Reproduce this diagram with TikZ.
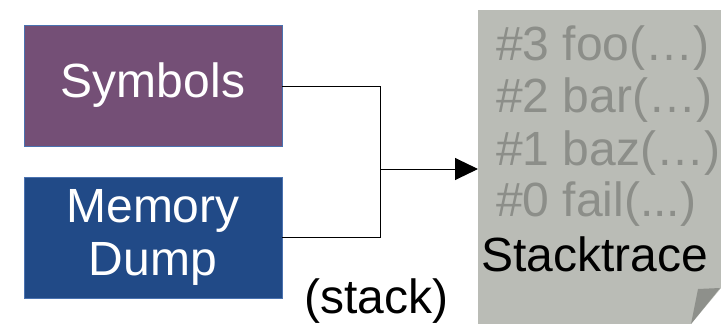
\documentclass[tikz,border=0pt]{standalone}
\usepackage{fontspec}
\setmainfont{Liberation Sans}
\usetikzlibrary{arrows.meta}
\definecolor{symfill}{HTML}{744F76}
\definecolor{memfill}{HTML}{214A87}
\definecolor{boxline}{HTML}{4A72B0}
\definecolor{pagefill}{HTML}{BABCB6}
\definecolor{pagetext}{HTML}{8C8E89}
\definecolor{flapfill}{HTML}{8E908B}
\tikzset{
  srcbox/.style={draw=boxline, line width=0.8pt, minimum width=258pt, minimum height=121pt, inner sep=0pt, text=white, align=center},
  bigtext/.style={font=\fontsize{48}{53}\selectfont},
  traceline/.style={anchor=base west, inner sep=0pt, text=pagetext, font=\fontsize{48}{52}\selectfont},
  conn/.style={draw=black, line width=1pt},
}
\begin{document}
\begin{tikzpicture}[x=1pt,y=-1pt]
\useasboundingbox (0,0) rectangle (721,324);
\node[srcbox, fill=symfill, bigtext] (sym) at (153,85.5) {Symbols};
\node[srcbox, fill=memfill, bigtext] (mem) at (153,237.5) {Memory\\Dump};
% stacktrace page
\path[fill=pagefill] (478,10) -- (721,10) -- (721,288) -- (691,324) -- (478,324) -- cycle;
\path[fill=flapfill] (691,324) -- (698,289) -- (720,288) -- cycle;
\coordinate (doc) at (478,169);
\node[traceline] (l3) at (496,60) {\#3 foo(…)};
\node[traceline] (l2) at (496,112) {\#2 bar(…)};
\node[traceline] (l1) at (496,165) {\#1 baz(…)};
\node[traceline] (l0) at (496,216) {\#0 fail(...)};
\node[traceline, text=black] (st) at (481,271) {Stacktrace};
\node[anchor=base west, inner sep=0pt, font=\fontsize{48}{52}\selectfont] (stack) at (304,313) {(stack)};
% connectors
\coordinate (j) at (380,169);
\draw[conn] (sym.east |- 0,86) -| (j);
\draw[conn] (mem.east |- 0,237) -| (j);
\draw[conn, -{Triangle[length=23pt,width=22pt]}] (j) -- (doc);
\end{tikzpicture}
\end{document}
